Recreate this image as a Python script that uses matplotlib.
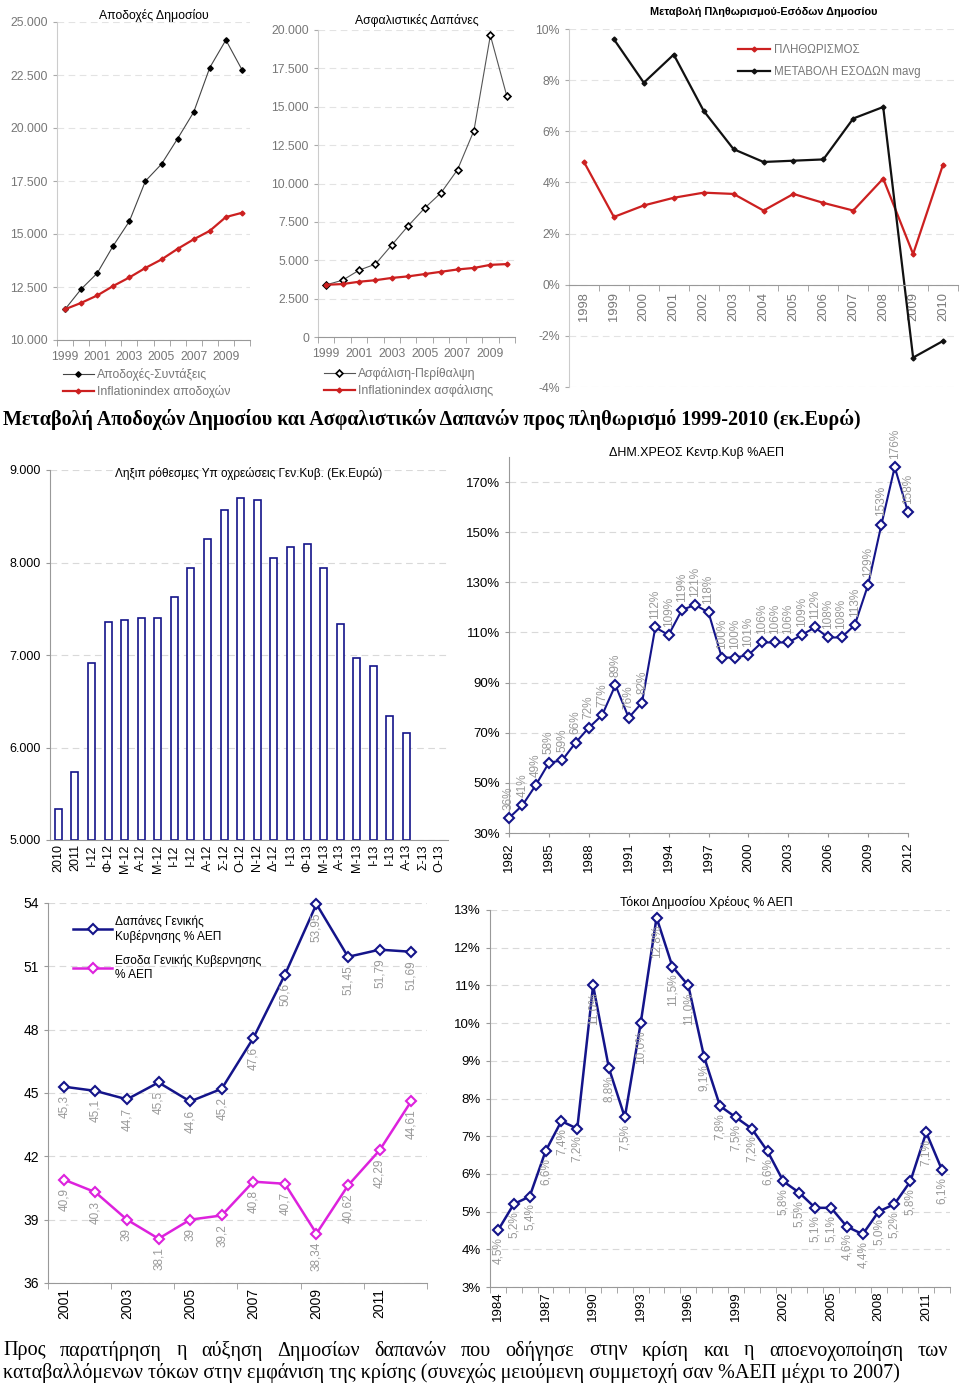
import matplotlib
matplotlib.use("Agg")
import matplotlib.pyplot as plt
from matplotlib.ticker import FuncFormatter, FixedLocator
import numpy as np

plt.rcParams['font.family'] = ['Liberation Sans', 'DejaVu Sans']

# ---- top-left: Αποδοχές Δημοσίου
years_top = ['1999', '2000', '2001', '2002', '2003', '2004', '2005', '2006', '2007', '2008', '2009', '2010']
apodoxes = [11450, 12400, 13150, 14450, 15600, 17500, 18300, 19500, 20750, 22850, 24150, 22750]
infl_apodoxes = [11450, 11750, 12100, 12550, 12950, 13400, 13800, 14300, 14750, 15150, 15800, 16000]

# ---- top-middle: Ασφαλιστικές Δαπάνες
asfalisi = [3400, 3700, 4350, 4750, 6000, 7250, 8400, 9400, 10900, 13450, 19650, 15700]
infl_asfalisi = [3400, 3450, 3600, 3700, 3850, 3950, 4100, 4250, 4400, 4500, 4700, 4750]

# ---- top-right: Μεταβολή Πληθωρισμού-Εσόδων
years_infl = ['1998', '1999', '2000', '2001', '2002', '2003', '2004', '2005', '2006', '2007', '2008', '2009', '2010']
plithorismos = [4.8, 2.65, 3.1, 3.4, 3.6, 3.55, 2.9, 3.55, 3.2, 2.9, 4.15, 1.2, 4.7]
esoda_mavg = [np.nan, 9.6, 7.9, 9.0, 6.8, 5.3, 4.8, 4.85, 4.9, 6.5, 6.95, -2.85, -2.2]

# ---- middle-left: ληξιπρόθεσμες
months = ['2010', '2011', 'Ι-12', 'Φ-12', 'Μ-12', 'Α-12', 'Μ-12', 'Ι-12', 'Ι-12', 'Α-12', 'Σ-12', 'Ο-12',
          'Ν-12', 'Δ-12', 'Ι-13', 'Φ-13', 'Μ-13', 'Α-13', 'Μ-13', 'Ι-13', 'Ι-13', 'Α-13', 'Σ-13', 'Ο-13']
arrears = [5335, 5735, 6917, 7357, 7380, 7396, 7396, 7627, 7944, 8254, 8571, 8697,
           8676, 8052, 8168, 8204, 7937, 7332, 6964, 6877, 6337, 6160, np.nan, np.nan]

# ---- middle-right: χρέος % ΑΕΠ
debt_years = list(range(1982, 2013))
debt = [36, 41, 49, 58, 59, 66, 72, 77, 89, 76, 82, 112, 109, 119, 121, 118, 100, 100, 101,
        106, 106, 106, 109, 112, 108, 108, 113, 129, 153, 176, 158]

# ---- bottom-left: δαπάνες / έσοδα
gg_years = ['2001', '2002', '2003', '2004', '2005', '2006', '2007', '2008', '2009', '2010', '2011', '2012']
dapanes = [45.3, 45.1, 44.7, 45.5, 44.6, 45.2, 47.6, 50.6, 53.95, 51.45, 51.79, 51.69]
dapanes_lbl = ['45,3', '45,1', '44,7', '45,5', '44,6', '45,2', '47,6', '50,6', '53,95', '51,45', '51,79', '51,69']
esoda = [40.9, 40.3, 39, 38.1, 39, 39.2, 40.8, 40.7, 38.34, 40.62, 42.29, 44.61]
esoda_lbl = ['40,9', '40,3', '39', '38,1', '39', '39,2', '40,8', '40,7', '38,34', '40,62', '42,29', '44,61']

# ---- bottom-right: τόκοι
int_years = [str(y) for y in range(1984, 2013)]
tokoi = [4.5, 5.2, 5.4, 6.6, 7.4, 7.2, 11.0, 8.8, 7.5, 10.0, 12.8, 11.5, 11.0, 9.1, 7.8, 7.5, 7.2,
         6.6, 5.8, 5.5, 5.1, 5.1, 4.6, 4.4, 5.0, 5.2, 5.8, 7.1, 6.1]

W, H = 960, 1386
fig = plt.figure(figsize=(W / 100, H / 100), dpi=100)

def add_ax(left, right, top, bottom):
    return fig.add_axes([left / W, 1 - bottom / H, (right - left) / W, (bottom - top) / H])

GRAY = '#777777'
GRID = '#d9d9d9'
NAVY = '#14148a'
RED = '#cc2020'
MAG = '#dd22dd'
TOPFS = 8.8
thous = FuncFormatter(lambda v, p: f"{v:,.0f}".replace(',', '.'))
pct = FuncFormatter(lambda v, p: f"{v:.0f}%")

def style_top(ax):
    for s in ['top', 'right']:
        ax.spines[s].set_visible(False)
    ax.spines['left'].set_color('#cccccc')
    ax.spines['bottom'].set_color('#999999')
    ax.tick_params(axis='y', colors='#aaaaaa', labelcolor=GRAY, labelsize=TOPFS, length=3)
    ax.tick_params(axis='x', which='major', length=0, labelcolor=GRAY, labelsize=TOPFS, pad=8)
    ax.tick_params(axis='x', which='minor', length=4, color='#999999')
    ax.yaxis.grid(True, ls=(0, (6, 4)), color='#e3e3e3', lw=0.8)
    ax.set_axisbelow(True)

# ---------- panel 1
ax1 = add_ax(57, 250, 22, 340)
x = np.arange(len(years_top))
ax1.plot(x, apodoxes, color='#444444', lw=0.8, marker='D', ms=2.8, mfc='black', mec='black',
         label='Αποδοχές-Συντάξεις')
ax1.plot(x, infl_apodoxes, color=RED, lw=1.6, marker='D', ms=2.5, label='Inflationindex αποδοχών')
ax1.set_xlim(-0.5, len(x) - 0.5)
ax1.set_ylim(10000, 25000)
ax1.set_yticks(np.arange(10000, 25001, 2500))
ax1.yaxis.set_major_formatter(thous)
ax1.set_xticks(x[::2])
ax1.set_xticklabels(years_top[::2])
ax1.xaxis.set_minor_locator(FixedLocator(np.arange(-0.5, len(x), 1)))
style_top(ax1)
ax1.set_title('Αποδοχές Δημοσίου', fontsize=TOPFS, pad=2)
ax1.legend(loc='upper left', bbox_to_anchor=(0.0, -0.07), frameon=False, fontsize=TOPFS,
           labelcolor=GRAY, handlelength=2.5, borderpad=0, labelspacing=0.3, handletextpad=0.3)

# ---------- panel 2
ax2 = add_ax(318, 515, 30, 337)
ax2.plot(x, asfalisi, color='#555555', lw=0.8, marker='D', ms=3.5, mfc='white', mec='black', mew=1.2,
         label='Ασφάλιση-Περίθαλψη')
ax2.plot(x, infl_asfalisi, color=RED, lw=1.6, marker='D', ms=2.5, label='Inflationindex ασφάλισης')
ax2.set_xlim(-0.5, len(x) - 0.5)
ax2.set_ylim(0, 20000)
ax2.set_yticks(np.arange(0, 20001, 2500))
ax2.yaxis.set_major_formatter(thous)
ax2.set_xticks(x[::2])
ax2.set_xticklabels(years_top[::2])
ax2.xaxis.set_minor_locator(FixedLocator(np.arange(-0.5, len(x), 1)))
style_top(ax2)
ax2.set_title('Ασφαλιστικές Δαπάνες', fontsize=TOPFS, pad=4)
ax2.legend(loc='upper left', bbox_to_anchor=(0.0, -0.078), frameon=False, fontsize=TOPFS,
           labelcolor=GRAY, handlelength=2.5, borderpad=0, labelspacing=0.35, handletextpad=0.3)

# ---------- panel 3
ax3 = add_ax(569, 958, 29, 387)
x3 = np.arange(len(years_infl))
ax3.plot(x3, plithorismos, color=RED, lw=1.6, marker='D', ms=2.5, label='ΠΛΗΘΩΡΙΣΜΟΣ')
ax3.plot(x3, esoda_mavg, color='#111111', lw=1.6, marker='D', ms=2.5, label='ΜΕΤΑΒΟΛΗ ΕΣΟΔΩΝ mavg')
ax3.set_xlim(-0.5, len(x3) - 0.5)
ax3.set_ylim(-4, 10)
ax3.spines['bottom'].set_position(('data', 0))
ax3.set_yticks(np.arange(-4, 10.1, 2))
ax3.yaxis.set_major_formatter(pct)
ax3.set_xticks(x3)
ax3.set_xticklabels(years_infl)
ax3.xaxis.set_minor_locator(FixedLocator(np.arange(-0.5, len(x3), 1)))
style_top(ax3)
ax3.tick_params(axis='x', which='major', pad=5, labelrotation=90, labelsize=9.3)
ax3.set_title('Μεταβολή Πληθωρισμού-Εσόδων Δημοσίου', fontsize=7.8, fontweight='bold', pad=10)
ax3.legend(loc='upper left', bbox_to_anchor=(0.42, 0.975), frameon=False, fontsize=8.3,
           labelcolor=GRAY, handlelength=2.8, borderpad=0, labelspacing=0.9, handletextpad=0.3)

fig.text(3 / W, 1 - 420 / H, 'Μεταβολή Αποδοχών Δημοσίου και Ασφαλιστικών Δαπανών προς πληθωρισμό 1999-2010 (εκ.Ευρώ)',
         family=['Liberation Serif', 'DejaVu Serif'], fontweight='bold', fontsize=14.5, va='center', ha='left')

def style_mid(ax, fs=9):
    for s in ['top', 'right']:
        ax.spines[s].set_visible(False)
    ax.spines['left'].set_color('#999999')
    ax.spines['bottom'].set_color('#999999')
    ax.tick_params(axis='both', labelsize=fs, color='#999999', length=3)
    ax.yaxis.grid(True, ls=(0, (6, 4)), color=GRID, lw=0.8)
    ax.set_axisbelow(True)

# ---------- panel 4 bars
ax4 = add_ax(50, 448, 470, 840)
x4 = np.arange(len(months))
ax4.bar(x4, np.array(arrears) - 5000, bottom=5000, width=0.42, color='white', edgecolor=NAVY, lw=1.2)
ax4.set_xlim(-0.5, len(x4) - 0.5)
ax4.set_ylim(5000, 9000)
ax4.set_yticks(np.arange(5000, 9001, 1000))
ax4.yaxis.set_major_formatter(thous)
ax4.set_xticks(x4)
ax4.set_xticklabels(months, rotation=90)
style_mid(ax4)
ax4.tick_params(axis='x', length=0, pad=3)
ax4.text(0.5, 0.99, 'Ληξιπ ρόθεσμες Υπ οχρεώσεις Γεν.Κυβ. (Εκ.Ευρώ)', transform=ax4.transAxes,
         ha='center', va='center', fontsize=8.5)

# ---------- panel 5 debt
ax5 = add_ax(509, 908, 457, 833)
ax5.plot(debt_years, debt, color=NAVY, lw=1.5, marker='D', ms=5.5, mfc='white', mec=NAVY, mew=1.5,
         clip_on=False, zorder=3)
for yr, v in zip(debt_years, debt):
    ax5.annotate(f"{v}%", (yr, v), xytext=(0, 6), textcoords='offset points', rotation=90,
                 ha='center', va='bottom', fontsize=8.5, color='#999999')
ax5.set_xlim(1982, 2012)
ax5.set_ylim(30, 180)
ax5.set_yticks(np.arange(30, 171, 20))
ax5.yaxis.set_major_formatter(pct)
ax5.set_xticks(np.arange(1982, 2013, 3))
ax5.tick_params(axis='x', rotation=90)
style_mid(ax5, 9.5)
ax5.text(0.47, 1.01, 'ΔΗΜ.ΧΡΕΟΣ Κεντρ.Κυβ %ΑΕΠ', transform=ax5.transAxes, ha='center', va='center', fontsize=9)

# ---------- panel 6
ax6 = add_ax(48, 427, 903, 1283)
x6 = np.arange(len(gg_years))
ax6.plot(x6, dapanes, color=NAVY, lw=1.8, marker='D', ms=5, mfc='white', mec=NAVY, mew=1.5,
         label='Δαπάνες Γενικής\nΚυβέρνησης % ΑΕΠ', clip_on=False, zorder=3)
ax6.plot(x6, esoda, color=MAG, lw=1.8, marker='D', ms=5, mfc='white', mec=MAG, mew=1.5,
         label='Εσοδα Γενικής Κυβερνησης\n% ΑΕΠ', zorder=3)
for i in range(len(x6)):
    ax6.annotate(dapanes_lbl[i], (x6[i], dapanes[i]), xytext=(0, -6), textcoords='offset points',
                 rotation=90, ha='center', va='top', fontsize=8.5, color='#999999')
    ax6.annotate(esoda_lbl[i], (x6[i], esoda[i]), xytext=(0, -6), textcoords='offset points',
                 rotation=90, ha='center', va='top', fontsize=8.5, color='#999999')
ax6.set_xlim(-0.5, len(x6) - 0.5)
ax6.set_ylim(36, 54)
ax6.set_yticks(np.arange(36, 55, 3))
ax6.set_xticks(x6[::2])
ax6.set_xticklabels(gg_years[::2], rotation=90)
ax6.xaxis.set_minor_locator(FixedLocator(np.arange(-0.5, len(x6), 2)))
style_mid(ax6, 10)
ax6.tick_params(axis='x', which='major', length=0)
ax6.tick_params(axis='x', which='minor', length=4, color='#999999')
ax6.legend(loc='upper left', bbox_to_anchor=(0.05, 0.985), frameon=False, fontsize=8.6,
           handlelength=3.3, borderpad=0, labelspacing=1.0, handletextpad=0.2)

# ---------- panel 7
ax7 = add_ax(490, 950, 910, 1287)
x7 = np.arange(len(int_years))
ax7.plot(x7, tokoi, color=NAVY, lw=1.8, marker='D', ms=5, mfc='white', mec=NAVY, mew=1.5, zorder=3)
for i, v in enumerate(tokoi):
    ax7.annotate(f"{v:.1f}%".replace('.', ','), (x7[i], v), xytext=(0, -5), textcoords='offset points',
                 rotation=90, ha='center', va='top', fontsize=8.5, color='#999999')
ax7.set_xlim(-0.5, len(x7) - 0.5)
ax7.set_ylim(3, 13)
ax7.set_yticks(np.arange(3, 13.1, 1))
ax7.yaxis.set_major_formatter(pct)
ax7.set_xticks(x7[::3])
ax7.set_xticklabels(int_years[::3], rotation=90)
ax7.xaxis.set_minor_locator(FixedLocator(np.arange(-0.5, len(x7), 1)))
style_mid(ax7, 9.5)
ax7.tick_params(axis='x', which='major', length=0)
ax7.tick_params(axis='x', which='minor', length=4, color='#999999')
ax7.text(0.47, 1.02, 'Τόκοι Δημοσίου Χρέους % ΑΕΠ', transform=ax7.transAxes, ha='center', va='center', fontsize=9)

# ---------- bottom text, first line justified
serif = ['Liberation Serif', 'DejaVu Serif']
line1 = 'Προς παρατήρηση η αύξηση Δημοσίων δαπανών που οδήγησε στην κρίση και η αποενοχοποίηση των'
line2 = 'καταβαλλόμενων τόκων στην εμφάνιση της κρίσης (συνεχώς μειούμενη συμμετοχή σαν %ΑΕΠ μέχρι το 2007)'
r = fig.canvas.get_renderer()
words = line1.split()
arts = [fig.text(0, 1 - 1351 / H, w, family=serif, fontsize=14.5, va='center', ha='left') for w in words]
widths = [a.get_window_extent(r).width for a in arts]
gap = ((948 - 3) - sum(widths)) / (len(words) - 1)
xpos = 3
for a, wd in zip(arts, widths):
    a.set_x(xpos / W)
    xpos += wd + gap
fig.text(3 / W, 1 - 1373 / H, line2, family=serif, fontsize=14.5, va='center', ha='left')

fig.savefig('out.png', dpi=100)
